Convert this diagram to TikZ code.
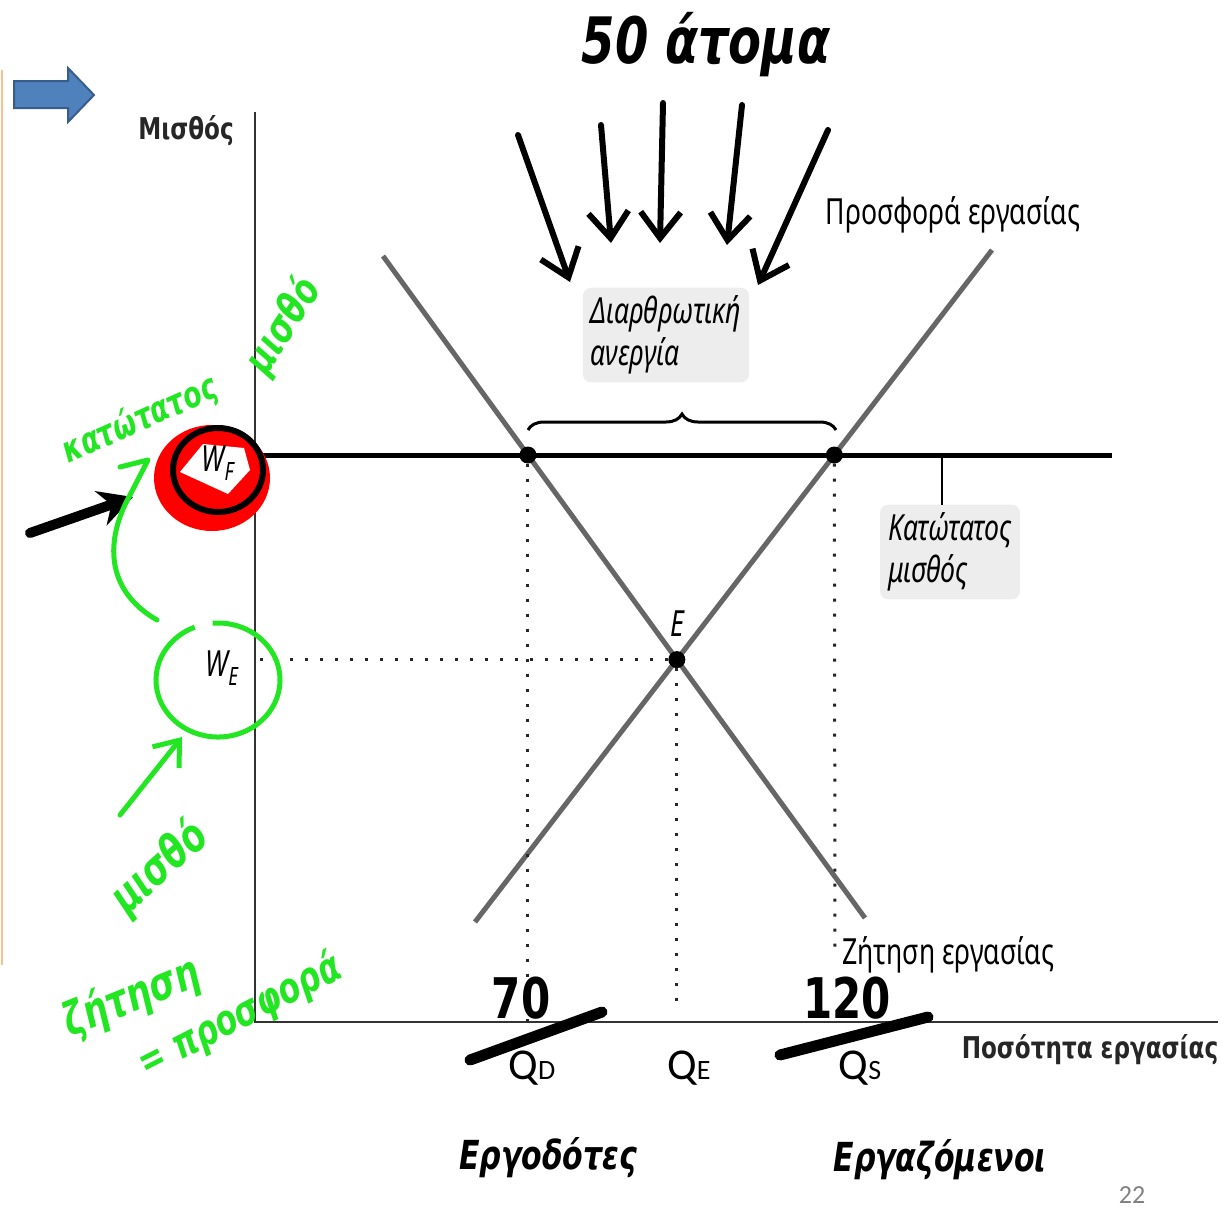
\documentclass[tikz,border=0pt]{standalone}
\usepackage{fontspec}
\setmainfont{Noto Sans}
\newfontfamily\labfont[FakeStretch=0.74]{Noto Sans}
\newfontfamily\boldlab[FakeStretch=0.77]{DejaVu Sans}
\newfontfamily\qfont{Carlito}
\newfontfamily\handfont[FakeStretch=0.75]{DejaVu Sans}
\usetikzlibrary{calc,positioning,arrows.meta,decorations.pathreplacing}

\definecolor{penGreen}{RGB}{34,230,34}
\definecolor{slideBlue}{RGB}{79,129,189}
\definecolor{slideEdge}{RGB}{56,93,138}
\definecolor{slideOrange}{RGB}{250,192,143}

\tikzset{
  handarrow/.style={line width=6pt,line cap=round,line join=round,
    -{Straight Barb[length=26pt,width=40pt,line width=6pt]}},
  hand/.style={inner sep=0pt}
}

\begin{document}
\begin{tikzpicture}[
    x=1pt,y=-1pt,
    axis/.style={line width=2pt,black!80},
    curve/.style={line width=5pt,black!60},
    floor/.style={line width=5pt,black},
    guide/.style={line width=3pt,black!85,dash pattern=on 3pt off 12pt},
    dot/.style={circle,fill=black,inner sep=0pt,minimum size=17pt},
    lab/.style={font=\labfont\fontsize{36}{42}\selectfont,inner sep=0pt},
    ital/.style={lab,font=\labfont\fontsize{36}{42}\selectfont\itshape},
    axlab/.style={lab,font=\boldlab\bfseries\fontsize{30}{36}\selectfont,text=black!85},
    shadebox/.style={ital,fill=black!7,rounded corners=8pt,align=left,
      inner sep=8pt},
    qlab/.style={font=\qfont\fontsize{44}{44}\selectfont,inner sep=0pt}
  ]
  \useasboundingbox (0,0) rectangle (1231,1218);

  % slide decorations
  \coordinate (edgeTop) at (2,70);
  \coordinate (edgeBot) at (2,965);
  \draw[slideOrange,line width=2pt] (edgeTop) -- (edgeBot);
  \draw[fill=slideBlue,draw=slideEdge,line width=2pt]
    (14,81) -- (68,81) -- (68,68) -- (94,95) -- (68,122) -- (68,108) -- (14,108) -- cycle;
  \node (pageno) at (1132,1195) [font=\qfont\fontsize{26}{26}\selectfont,text=black!50] {22};

  % axes
  \coordinate (O) at (255,1022);
  \coordinate (Ytop) at (255,112);
  \coordinate (Xend) at (1218,1022);
  \draw[axis] (Ytop) -- (O) -- (Xend);
  \node (ylab) at (186,131) [axlab] {Μισθός};
  \node (xlab) at (1090,1050) [axlab] {Ποσότητα εργασίας};

  % supply, demand, minimum wage
  \coordinate (S1) at (475,922);
  \coordinate (S2) at (992,250);
  \coordinate (D1) at (383,256);
  \coordinate (D2) at (865,918);
  \coordinate (F0) at (255,455);
  \coordinate (F1) at (1112,455);
  \draw[curve] (S1) -- (S2);
  \draw[curve] (D1) -- (D2);
  \draw[floor] (F0) -- (F1);

  \node (QDpt) [dot] at (intersection of D1--D2 and F0--F1) {};
  \node (QSpt) [dot] at (intersection of S1--S2 and F0--F1) {};
  \node (Ept)  [dot] at (intersection of S1--S2 and D1--D2) {};
  \node (Elab) [ital,above=14pt of Ept] {E};

  \coordinate (QSend) at (835,955);
  \draw[guide] (QDpt) -- (QDpt |- O);
  \draw[guide] (QSpt) -- (QSend);
  \draw[guide] (Ept) -- ($(Ept |- O)+(0,-10)$);
  \draw[guide] (Ept) -- (Ept -| O);

  \draw[line width=3pt,decorate,decoration={brace,amplitude=16pt}]
    (528,430) -- (836,430);

  \node (suplab) at (953,215) [lab] {Προσφορά εργασίας};
  \node (demlab) at (948,955) [lab] {Ζήτηση εργασίας};
  \node (gapbox) at (666,335) [shadebox] {Διαρθρωτική\\ανεργία};
  \node (floorbox) at (950,552) [shadebox] {Κατώτατος\\μισθός};
  \coordinate (tick) at (942,455);
  \draw[line width=2.5pt] (tick) -- (floorbox.north -| tick);

  \node (QDlab) at (532,1068) [qlab] {Q{\fontsize{28}{28}\selectfont D}};
  \node (QElab) at (689,1068) [qlab] {Q{\fontsize{28}{28}\selectfont E}};
  \node (QSlab) at (860,1068) [qlab] {Q{\fontsize{28}{28}\selectfont S}};

  % wage marks on the axis
  \coordinate (WFc) at (212,478);
  \fill[red] (WFc) ellipse [x radius=58,y radius=53];
  \fill[white] (180,472) -- (203,444) -- (244,448) -- (250,470) -- (228,494) -- cycle;
  \draw[line width=6pt] (218,470) ellipse [x radius=45,y radius=42];
  \node (WFlab) at (218,463) [ital] {W\textsubscript{F}};
  \node (WElab) at (222,668) [ital] {W\textsubscript{E}};
  \coordinate (WEc) at (218,680);
  \draw[penGreen,line width=5pt] ($(WEc)+(-112:62 and 57)$)
    arc [start angle=-112,end angle=-455,x radius=62,y radius=57];

  % handwritten notes
  \node (people) at (706,45) [hand,font=\handfont\bfseries\itshape\fontsize{64}{64}\selectfont] {50 άτομα};
  \foreach \i/\sx/\sy/\ex/\ey in {1/518/135/570/282,2/601/125/611/243,3/663/103/660/243,
                                  4/742/105/727/245,5/828/130/758/285} {
    \coordinate (top\i) at (\sx,\sy);
    \coordinate (tip\i) at (\ex,\ey);
    \draw[handarrow] (top\i) -- (tip\i);
  }

  \node (n70) at (521,998) [hand,font=\handfont\bfseries\fontsize{56}{56}\selectfont] {70};
  \node (n120) at (847,998) [hand,font=\handfont\bfseries\fontsize{56}{56}\selectfont] {120};
  \coordinate (cutA1) at (470,1060);
  \coordinate (cutA2) at (602,1012);
  \coordinate (cutB1) at (780,1055);
  \coordinate (cutB2) at (928,1017);
  \draw[line width=11pt,line cap=round] (cutA1) -- (cutA2);
  \draw[line width=11pt,line cap=round] (cutB1) -- (cutB2);
  \node (firms) at (548,1158) [hand,font=\handfont\bfseries\itshape\fontsize{40}{40}\selectfont] {Εργοδότες};
  \node (workers) at (940,1160) [hand,font=\handfont\bfseries\itshape\fontsize{40}{40}\selectfont] {Εργαζόμενοι};

  \coordinate (pointA) at (30,533);
  \coordinate (pointB) at (133,497);
  \draw[line width=10pt,line cap=round,-{Stealth[length=34pt,width=36pt]}] (pointA) -- (pointB);

  \begin{scope}[penGreen]
    \node (minA) at (140,420) [hand,rotate=24,font=\handfont\bfseries\itshape\fontsize{36}{36}\selectfont] {κατώτατος};
    \node (minB) at (284,326) [hand,rotate=57,font=\handfont\bfseries\itshape\fontsize{42}{42}\selectfont] {μισθό};
    \node (wageup) at (160,868) [hand,rotate=42,font=\handfont\bfseries\itshape\fontsize{46}{46}\selectfont] {μισθό};
    \node (dem) at (132,998) [hand,rotate=22,font=\handfont\bfseries\itshape\fontsize{46}{46}\selectfont] {ζήτηση};
    \node (sup) at (240,1016) [hand,rotate=27,font=\handfont\bfseries\itshape\fontsize{42}{42}\selectfont] {= προσφορά};
    \coordinate (hook0) at (120,467);
    \coordinate (hook1) at (148,460);
    \coordinate (hook2) at (130,495);
    \coordinate (hook3) at (157,620);
    \draw[line width=5pt,line cap=round,line join=round]
      (hook0) -- (hook1) -- (hook2) .. controls (105,540) and (105,590) .. (hook3);
    \coordinate (upA) at (120,815);
    \coordinate (upB) at (182,737);
    \draw[line width=5pt,line cap=round,-{Straight Barb[length=22pt,width=34pt,line width=5pt]}] (upA) -- (upB);
  \end{scope}
\end{tikzpicture}
\end{document}
